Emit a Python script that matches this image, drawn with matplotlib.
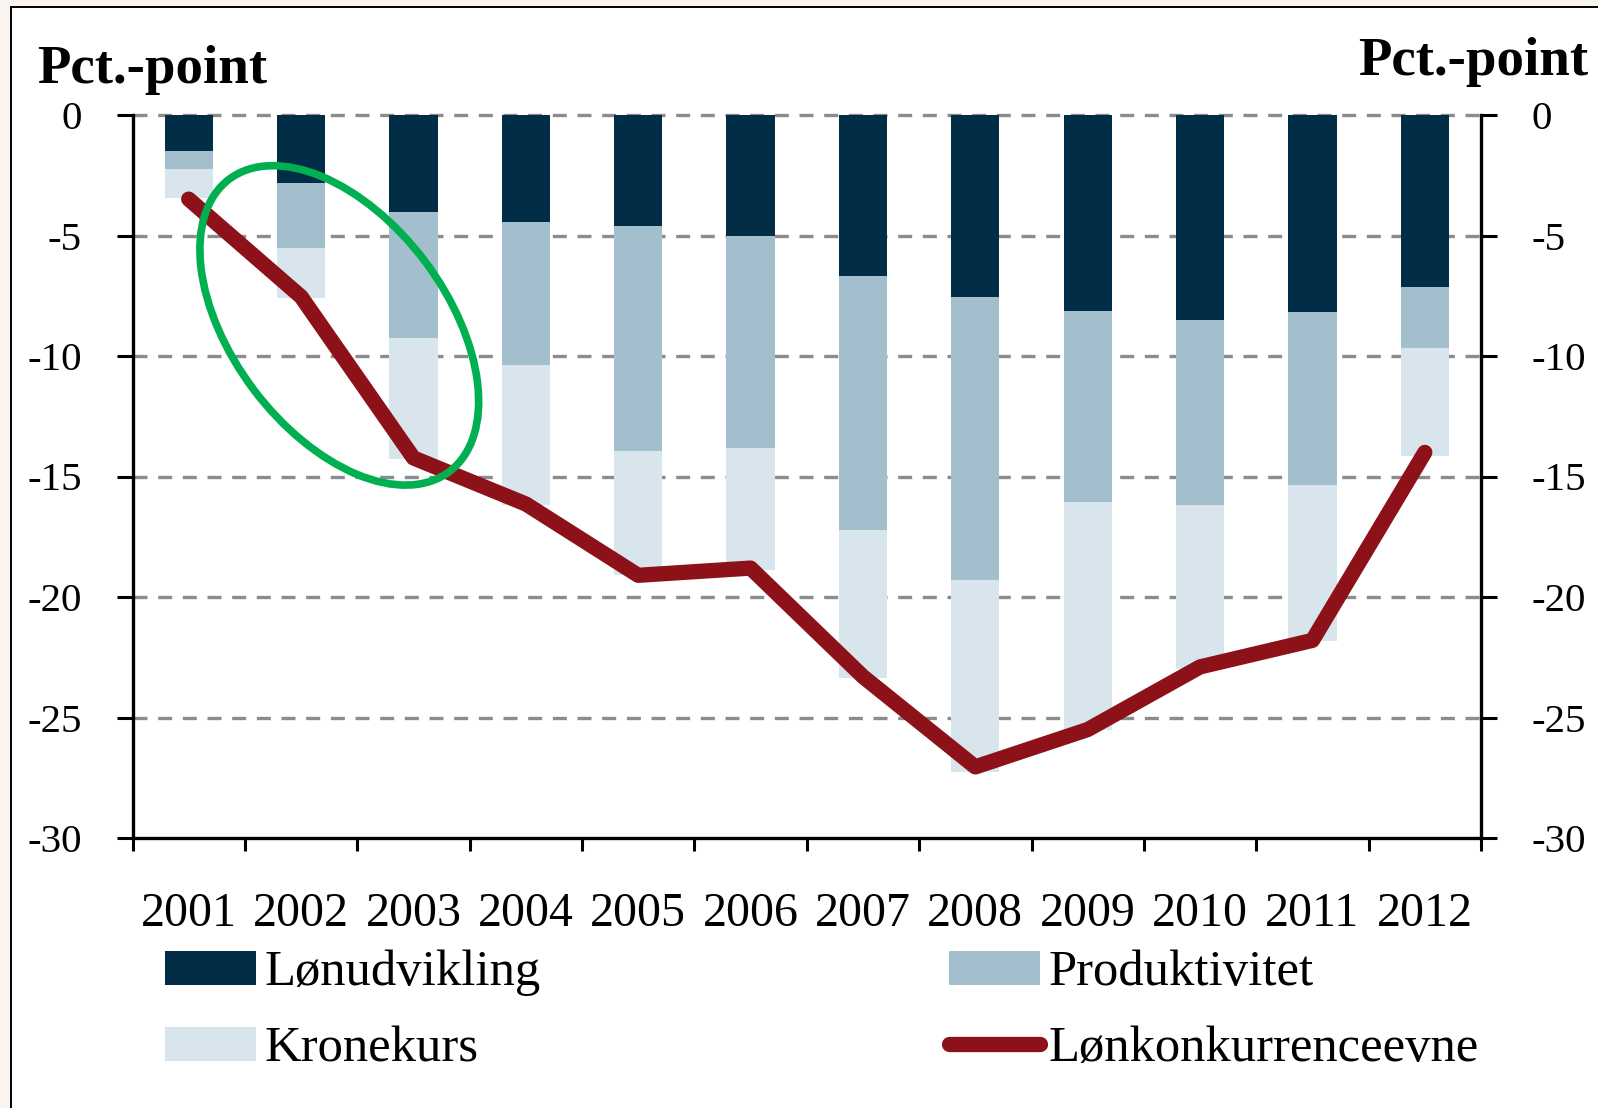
import numpy as np
import matplotlib
matplotlib.use('Agg')
import matplotlib.pyplot as plt
from matplotlib.patches import Ellipse, Rectangle, Patch
from matplotlib.lines import Line2D
import matplotlib.transforms as mtransforms

# ---------------- data ----------------
years = ['2001', '2002', '2003', '2004', '2005', '2006',
         '2007', '2008', '2009', '2010', '2011', '2012']
loenudvikling = [-1.49, -2.83, -4.02, -4.44, -4.60, -5.03, -6.68, -7.56, -8.15, -8.49, -8.19, -7.15]
produktivitet = [-0.75, -2.67, -5.22, -5.95, -9.34, -8.77, -10.56, -11.74, -7.90, -7.69, -7.16, -2.53]
kronekurs = [-1.19, -2.11, -5.05, -5.79, -5.16, -5.10, -6.12, -7.95, -9.45, -6.82, -6.49, -4.45]
loenkonkurrenceevne = [-3.49, -7.54, -14.23, -16.14, -19.10, -18.80, -23.30, -27.05, -25.50, -22.90, -21.80, -14.00]
y_ticks = [0, -5, -10, -15, -20, -25, -30]
axis_label = 'Pct.-point'
legend_labels = ['Lønudvikling', 'Produktivitet', 'Kronekurs', 'Lønkonkurrenceevne']

# ---------------- style ----------------
DARK = '#012D47'
MID = '#A3BFCD'
LIGHT = '#D9E5EC'
RED = '#8D1118'
GREEN = '#00AF50'
GRID = '#8C8C8C'
BEIGE = '#F9F5EE'

plt.rcParams['font.family'] = ['Liberation Serif', 'DejaVu Serif']
plt.rcParams['axes.unicode_minus'] = False

W, H = 1598, 1108
fig = plt.figure(figsize=(W / 100, H / 100), dpi=100, facecolor=BEIGE)

# white panel with thin black frame (cropped at right/bottom)
panel = Rectangle((11 / W, -0.05), 1.1, 1 - 7 / H + 0.05, transform=fig.transFigure,
                  facecolor='white', edgecolor='black', lw=1.4, zorder=0)
fig.add_artist(panel)

ax = fig.add_axes([132.5 / W, 1 - 838 / H, (1481 - 132.5) / W, (838 - 115) / H])
ax.set_facecolor('white')

x = np.arange(len(years))
b1 = np.array(loenudvikling)
b2 = np.array(produktivitet)
b3 = np.array(kronekurs)
bw = 0.43
ax.bar(x, b1, width=bw, color=DARK, zorder=2, linewidth=0)
ax.bar(x, b2, bottom=b1, width=bw, color=MID, zorder=2, linewidth=0)
ax.bar(x, b3, bottom=b1 + b2, width=bw, color=LIGHT, zorder=2, linewidth=0)

ax.plot(x, loenkonkurrenceevne, color=RED, lw=11, solid_capstyle='round',
        solid_joinstyle='round', zorder=3)

for yv in y_ticks[:-1]:
    ax.axhline(yv, color=GRID, lw=2.4, dashes=(4.2, 3.2), zorder=1, clip_on=False)

ax.set_xlim(-0.5, len(years) - 0.5)
ax.set_ylim(-30, 0)

ax.set_yticks(y_ticks)
ax.set_yticklabels([str(v) for v in y_ticks])
ax.tick_params(axis='y', which='major', direction='out', length=11.5, width=2.2,
               pad=25, labelsize=29.5, left=True, right=True,
               labelleft=True, labelright=True, colors='black')

ax.set_xticks(x)
ax.set_xticklabels(years)
ax.set_xticks(np.arange(-0.5, len(years), 1), minor=True)
ax.tick_params(axis='x', which='major', length=0, pad=39, labelsize=34.5)
ax.tick_params(axis='x', which='minor', length=9, width=2.2, direction='out')

ax.spines['top'].set_visible(False)
for s in ['left', 'right', 'bottom']:
    ax.spines[s].set_linewidth(2.4)
    ax.spines[s].set_zorder(4)

# green highlight ellipse (annotation), sized in pixels, anchored in data coords
ell_center = (1.34, -8.73)
ell_trans = mtransforms.Affine2D() + mtransforms.ScaledTranslation(
    ell_center[0], ell_center[1], ax.transData)
ell = Ellipse((0, 0), width=366, height=214, angle=-53, transform=ell_trans,
              fill=False, edgecolor=GREEN, lw=5.5, zorder=5, clip_on=False)
ax.add_artist(ell)

# axis titles
fig.text(37 / W, 1 - 83 / H, axis_label, fontsize=39.5, fontweight='bold',
         ha='left', va='baseline')
fig.text(1588 / W, 1 - 75 / H, axis_label, fontsize=39.5, fontweight='bold',
         ha='right', va='baseline')

# legends
common = dict(loc='upper left', frameon=False, fontsize=36.5, handlelength=1.80,
              handleheight=0.65, handletextpad=0.16, labelspacing=0.58,
              borderpad=0, borderaxespad=0)
h_loen = Patch(facecolor=DARK, edgecolor='none')
h_krone = Patch(facecolor=LIGHT, edgecolor='none')
h_prod = Patch(facecolor=MID, edgecolor='none')
h_line = Line2D([], [], color=RED, lw=11, solid_capstyle='round')
fig.legend(handles=[h_loen, h_krone], labels=[legend_labels[0], legend_labels[2]],
           bbox_to_anchor=(165 / W, 1 - 950 / H), **common)
fig.legend(handles=[h_prod, h_line], labels=[legend_labels[1], legend_labels[3]],
           bbox_to_anchor=(949 / W, 1 - 950 / H), **common)

fig.savefig('out.png', dpi=100, facecolor=fig.get_facecolor())
